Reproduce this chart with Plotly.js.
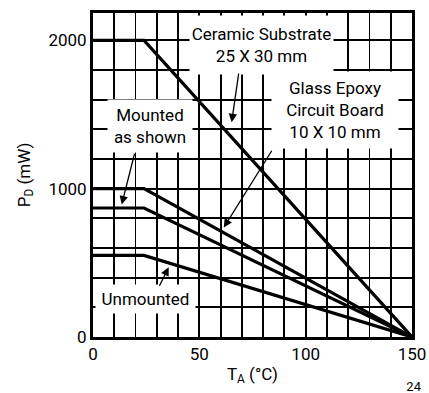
<!DOCTYPE html>
<html>
<head>
<meta charset="utf-8">
<script src="https://cdn.plot.ly/plotly-3.0.1.min.js"></script>
<style>html,body{margin:0;padding:0;background:#fff;}#chart{width:429px;height:393px;}</style>
</head>
<body>
<div id="chart"></div>
<script>
// Data
const temps = [0, 24, 150];
const ceramic = [2000, 2000, 0];
const glassEpoxy = [1000, 1000, 0];
const mountedAsShown = [870, 870, 0];
const unmounted = [550, 550, 0];
const xGridVals = [0, 10, 20, 30, 40, 50, 60, 70, 80, 90, 100, 110, 120, 130, 140, 150];
const xLabelVals = [0, 50, 100, 150];
const yGridVals = [0, 200, 400, 600, 800, 1000, 1200, 1400, 1600, 1800, 2000];
const yLabelVals = [0, 1000, 2000];

const FONT = 'Roboto, "Liberation Sans", sans-serif';
const FS = 17;
const lineStyle = {color: '#000', width: 3.2};

const traces = [ceramic, glassEpoxy, mountedAsShown, unmounted].map(v => ({
  x: temps, y: v, type: 'scatter', mode: 'lines', line: lineStyle,
  hoverinfo: 'skip', showlegend: false, cliponaxis: false
}));

const xText = xGridVals.map(v => xLabelVals.includes(v) ? String(v) : '');
const yText = yGridVals.map(v => yLabelVals.includes(v) ? String(v) : '');

function box(text, x, y, w, h) {
  return {text: text, x: x, y: y, xref: 'x', yref: 'y', showarrow: false,
    bgcolor: '#fff', borderpad: 0, width: w, height: h,
    font: {family: FONT, size: FS, color: '#000'}, align: 'center', valign: 'middle'};
}
function arrow(tx, ty, hx, hy) {
  return {text: '', x: hx, y: hy, ax: tx, ay: ty, xref: 'x', yref: 'y', axref: 'x', ayref: 'y',
    showarrow: true, arrowhead: 2, arrowsize: 1.3, arrowwidth: 1.3, arrowcolor: '#000', standoff: 0};
}

const axisCommon = {
  tickmode: 'array', showgrid: true, gridcolor: '#000', gridwidth: 1.9, zeroline: false,
  showline: true, linecolor: '#000', linewidth: 3, mirror: true, ticks: '',
  tickfont: {family: FONT, size: FS, color: '#000'}, fixedrange: true
};

const layout = {
  width: 429, height: 393,
  margin: {l: 93, r: 17, t: 13, b: 56},
  paper_bgcolor: '#fff', plot_bgcolor: '#fff',
  font: {family: FONT, size: FS, color: '#000'},
  showlegend: false,
  xaxis: Object.assign({}, axisCommon, {
    range: [0, 150], tickvals: xGridVals, ticktext: xText,
    title: {text: 'T<sub>A</sub> (°C)', font: {family: FONT, size: FS, color: '#000'}, standoff: 5}
  }),
  yaxis: Object.assign({}, axisCommon, {
    range: [0, 2185], tickvals: yGridVals, ticktext: yText,
    title: {text: 'P<sub>D</sub> (mW)', font: {family: FONT, size: FS, color: '#000'}, standoff: 14}
  }),
  annotations: [
    box('Ceramic Substrate<br>25 X 30 mm', 79.1, 1972, 143, 58),
    box('Glass Epoxy<br>Circuit Board<br>10 X 10 mm', 113.6, 1530, 126, 76),
    box('Mounted<br>as shown', 26.7, 1422, 84, 52),
    box('Unmounted', 24.8, 254, 99, 28),
    arrow(68.6, 1786, 65.2, 1449),
    arrow(84.5, 1266, 61.5, 739),
    arrow(19.7, 1246, 13.5, 894),
    arrow(30.9, 335, 35.6, 470),
    {text: '24', xref: 'paper', yref: 'paper', x: 1.035, y: -0.152, showarrow: false,
      width: 16, height: 12, borderpad: 0,
      font: {family: FONT, size: 13, color: '#000'}, xanchor: 'right', yanchor: 'middle'}
  ]
};

Plotly.newPlot('chart', traces, layout, {staticPlot: true, displayModeBar: false});
</script>
</body>
</html>
